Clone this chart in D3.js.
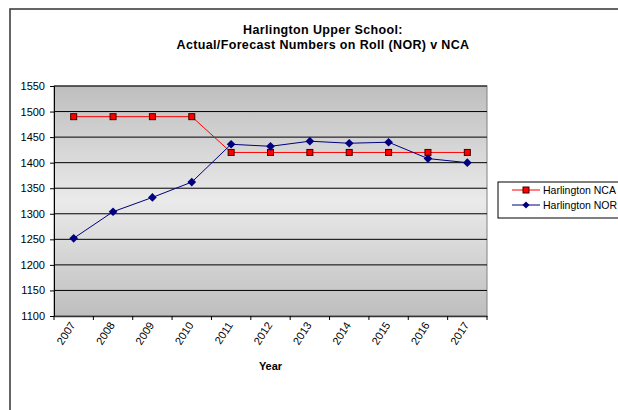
<!DOCTYPE html>
<html>
<head>
<meta charset="utf-8">
<script src="https://cdn.jsdelivr.net/npm/d3@7"></script>
<style>
  body { margin: 0; background: #fff; }
  text { font-family: "Liberation Sans", Arial, sans-serif; }
</style>
</head>
<body>
<script>
// data
var years = ["2007", "2008", "2009", "2010", "2011", "2012", "2013", "2014", "2015", "2016", "2017"];
var ncaValues = [1490, 1490, 1490, 1490, 1420, 1420, 1420, 1420, 1420, 1420, 1420];
var norValues = [1252, 1304, 1332, 1362, 1436, 1432, 1442, 1438, 1440, 1408, 1400];
var yTicks = [1100, 1150, 1200, 1250, 1300, 1350, 1400, 1450, 1500, 1550];
var seriesNames = ["Harlington NCA", "Harlington NOR"];

var svg = d3.select("body").append("svg")
  .attr("width", 618)
  .attr("height", 410);

// outer chart border
svg.append("rect")
  .attr("x", 10).attr("y", 9)
  .attr("width", 640).attr("height", 440)
  .attr("fill", "none")
  .attr("stroke", "#333")
  .attr("stroke-width", 1.5);

var plotL = 54, plotR = 487, plotT = 86, plotB = 316;

var x = d3.scaleBand().domain(years).range([plotL, plotR]);
var y = d3.scaleLinear().domain([1100, 1550]).range([plotB, plotT]);

// plot background gradient
var grad = svg.append("defs").append("linearGradient")
  .attr("id", "bg").attr("x1", 0).attr("y1", 0).attr("x2", 0).attr("y2", 1);
grad.append("stop").attr("offset", "0%").attr("stop-color", "#bebebe");
grad.append("stop").attr("offset", "50%").attr("stop-color", "#eaeaea");
grad.append("stop").attr("offset", "100%").attr("stop-color", "#bebebe");

svg.append("rect")
  .attr("x", plotL).attr("y", plotT)
  .attr("width", plotR - plotL).attr("height", plotB - plotT)
  .attr("fill", "url(#bg)")
  .attr("stroke", "#808080")
  .attr("stroke-width", 1);

// gridlines
svg.append("g").selectAll("line")
  .data(yTicks.slice(1))
  .enter().append("line")
  .attr("x1", plotL).attr("x2", plotR)
  .attr("y1", function(d) { return y(d); })
  .attr("y2", function(d) { return y(d); })
  .attr("stroke", "#000")
  .attr("stroke-width", 1);

// y axis
var yAxis = svg.append("g")
  .attr("transform", "translate(" + plotL + ",0)")
  .call(d3.axisLeft(y).tickValues(yTicks).tickSize(4).tickPadding(5).tickFormat(d3.format("d")));
yAxis.select(".domain").attr("stroke", "#000");
yAxis.selectAll("text").style("font-size", "11px").attr("fill", "#000");

// x axis
var xAxis = svg.append("g")
  .attr("transform", "translate(0," + plotB + ")")
  .call(d3.axisBottom(x).tickSize(0).tickFormat(""));
xAxis.select(".domain").attr("stroke", "#333").attr("stroke-width", 1.5);

svg.append("g").selectAll("line")
  .data(d3.range(years.length + 1))
  .enter().append("line")
  .attr("x1", function(i) { return plotL + i * x.step(); })
  .attr("x2", function(i) { return plotL + i * x.step(); })
  .attr("y1", plotB).attr("y2", plotB + 4)
  .attr("stroke", "#000");

svg.append("g").selectAll("text")
  .data(years)
  .enter().append("text")
  .attr("transform", function(d) {
    return "translate(" + (x(d) + x.bandwidth() / 2 - 1) + "," + (plotB + 7) + ") rotate(-57)";
  })
  .attr("text-anchor", "end")
  .attr("dy", "0.35em")
  .style("font-size", "11px")
  .attr("fill", "#000")
  .text(function(d) { return d; });

svg.append("text")
  .attr("x", (plotL + plotR) / 2).attr("y", 370)
  .attr("text-anchor", "middle")
  .style("font-size", "11px")
  .style("font-weight", "bold")
  .text("Year");

// title
svg.append("text")
  .attr("x", 323).attr("y", 34)
  .attr("text-anchor", "middle")
  .style("font-size", "12.5px")
  .style("letter-spacing", "0.35px")
  .style("font-weight", "bold")
  .text("Harlington Upper School:");
svg.append("text")
  .attr("x", 323).attr("y", 49)
  .attr("text-anchor", "middle")
  .style("font-size", "12.5px")
  .style("letter-spacing", "0.35px")
  .style("font-weight", "bold")
  .text("Actual/Forecast Numbers on Roll (NOR) v NCA");

var cx = function(d, i) { return x(years[i]) + x.bandwidth() / 2; };
var line = d3.line().x(cx).y(function(d) { return y(d); });

// NCA series
svg.append("path").datum(ncaValues)
  .attr("d", line).attr("fill", "none")
  .attr("stroke", "#ff0000").attr("stroke-width", 1);
svg.append("g").selectAll("rect")
  .data(ncaValues)
  .enter().append("rect")
  .attr("x", function(d, i) { return cx(d, i) - 3; })
  .attr("y", function(d) { return y(d) - 3; })
  .attr("width", 6).attr("height", 6)
  .attr("fill", "#ff0000")
  .attr("stroke", "#400000")
  .attr("stroke-width", 1);

// NOR series
var diamond = d3.symbol().type(d3.symbolDiamond2).size(48);
svg.append("path").datum(norValues)
  .attr("d", line).attr("fill", "none")
  .attr("stroke", "#000080").attr("stroke-width", 1);
svg.append("g").selectAll("path")
  .data(norValues)
  .enter().append("path")
  .attr("transform", function(d, i) { return "translate(" + cx(d, i) + "," + y(d) + ")"; })
  .attr("d", diamond)
  .attr("fill", "#000080");

// legend
var legend = svg.append("g");
legend.append("rect")
  .attr("x", 498).attr("y", 182)
  .attr("width", 140).attr("height", 36)
  .attr("fill", "#fff")
  .attr("stroke", "#000")
  .attr("stroke-width", 1);

var legendColors = ["#ff0000", "#000080"];
seriesNames.forEach(function(name, i) {
  var ly = 190 + i * 15;
  legend.append("line")
    .attr("x1", 512).attr("x2", 540)
    .attr("y1", ly).attr("y2", ly)
    .attr("stroke", legendColors[i]);
  if (i === 0) {
    legend.append("rect")
      .attr("x", 523).attr("y", ly - 3)
      .attr("width", 6).attr("height", 6)
      .attr("fill", "#ff0000").attr("stroke", "#400000");
  } else {
    legend.append("path")
      .attr("transform", "translate(526," + ly + ")")
      .attr("d", d3.symbol().type(d3.symbolDiamond2).size(32))
      .attr("fill", "#000080");
  }
  legend.append("text")
    .attr("x", 543).attr("y", ly)
    .attr("dy", "0.35em")
    .style("font-size", "10.5px")
    .text(name);
});
</script>
</body>
</html>
